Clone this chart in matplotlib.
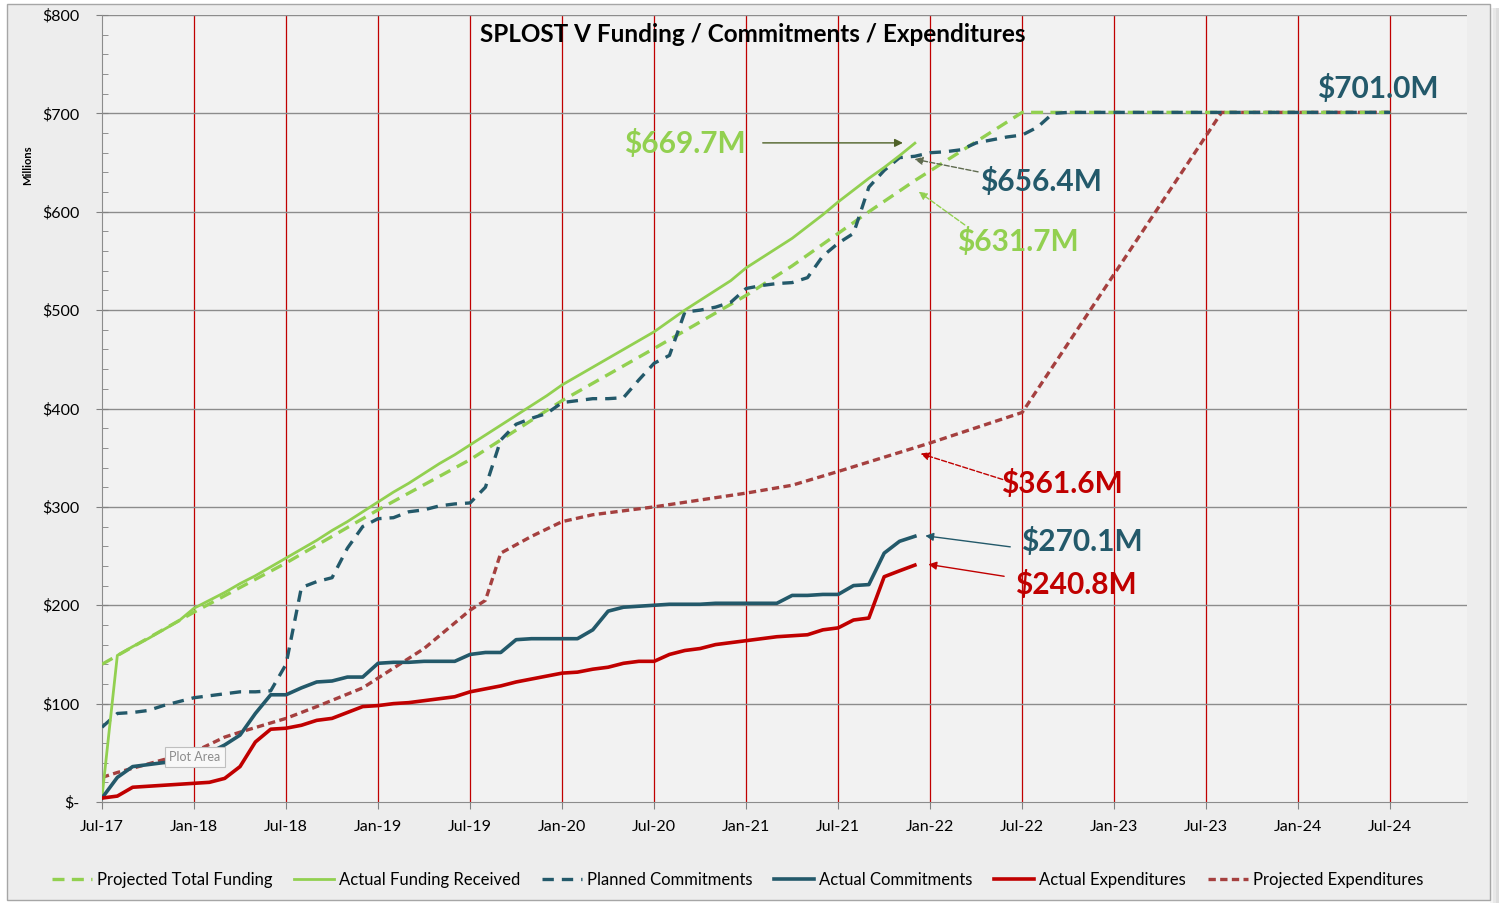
import matplotlib.pyplot as plt
from matplotlib.patches import Rectangle
from matplotlib.ticker import MultipleLocator, FuncFormatter

plt.rcParams['font.family'] = ['Lato', 'DejaVu Sans']

# month index 0 = Jul-17
tick_months = list(range(0, 85, 6))
tick_labels = ['Jul-17', 'Jan-18', 'Jul-18', 'Jan-19', 'Jul-19', 'Jan-20', 'Jul-20', 'Jan-21',
               'Jul-21', 'Jan-22', 'Jul-22', 'Jan-23', 'Jul-23', 'Jan-24', 'Jul-24']

actual_months = list(range(54))
actual_funding = [5, 149, 158, 166, 175, 184, 197, 205, 213, 222, 230, 239, 248, 257, 266, 276, 285, 295,
                  305, 315, 324, 334, 344, 353, 363, 373, 383, 393, 403, 413, 424, 433, 442, 451, 460, 469,
                  478, 489, 500, 510, 520, 530, 543, 553, 563, 573, 585, 597, 610, 622, 634, 645, 657, 669.7]
actual_commit = [4, 25, 36, 38, 40, 41, 43, 50, 58, 68, 90, 109, 109, 116, 122, 123, 127, 127,
                 141, 142, 142, 143, 143, 143, 150, 152, 152, 165, 166, 166, 166, 166, 175, 194, 198, 199,
                 200, 201, 201, 201, 202, 202, 202, 202, 202, 210, 210, 211, 211, 220, 221, 253, 265, 270.1]
actual_exp = [4, 6, 15, 16, 17, 18, 19, 20, 24, 36, 61, 74, 75, 78, 83, 85, 91, 97,
              98, 100, 101, 103, 105, 107, 112, 115, 118, 122, 125, 128, 131, 132, 135, 137, 141, 143,
              143, 150, 154, 156, 160, 162, 164, 166, 168, 169, 170, 175, 177, 185, 187, 229, 235, 240.8]

proj_fund_months = [0, 6, 12, 18, 24, 30, 36, 42, 45, 48, 50, 53, 60, 84]
proj_fund = [140, 193, 243, 297, 348, 408, 461, 515, 545, 578, 600, 631.7, 701, 701]

planned_months = list(range(64)) + [84]
planned_commit = [76, 90, 91, 93, 98, 102, 106, 108, 110, 112, 112, 113, 140, 218, 224, 228, 258, 280,
                  288, 289, 295, 297, 301, 303, 304, 320, 368, 384, 390, 395, 406, 408, 410, 410, 411, 429,
                  446, 454, 498, 500, 503, 508, 522, 525, 527, 528, 533, 555, 568, 578, 625, 642, 655, 656.4,
                  660, 661, 663, 670, 673, 676, 678, 686, 700, 701, 701]

proj_exp_months = [0, 1, 4, 6, 8, 9, 12, 14, 17, 18, 21, 24, 25, 26, 28, 30, 32, 36, 42, 45, 48, 54, 60, 73, 84]
proj_exp = [25, 30, 43, 51, 66, 71, 85, 97, 116, 126, 156, 195, 205, 253, 270, 285, 292, 300, 314, 322,
            336, 365, 396, 701, 701]

GREEN = '#92D050'
TEAL = '#23596A'
RED = '#C00000'
BROWN = '#A5403F'

fig = plt.figure(figsize=(14.99, 9.07), dpi=100, facecolor='white')
# chart area frame + soft shadow on the right
for i, c in enumerate(['#F4F4F4', '#E8E8E8', '#DDDDDD']):
    fig.patches.append(Rectangle(((1490 + 3 * i) / 1499, 1 - 903 / 907), 3 / 1499, 895 / 907,
                                 transform=fig.transFigure, facecolor=c, edgecolor='none', zorder=-11))
fig.patches.append(Rectangle((7 / 1499, 1 - 900 / 907), 1483 / 1499, 896 / 907, transform=fig.transFigure,
                             facecolor='#EDEDED', edgecolor='#A6A6A6', lw=1, zorder=-10))

ax = fig.add_axes([102 / 1499, 1 - 802 / 907, (1467 - 102) / 1499, (802 - 15) / 907])
ax.set_facecolor('#F2F2F2')

ax.plot(proj_exp_months, proj_exp, color=BROWN, lw=2.4, dashes=(2.2, 1.3), label='Projected Expenditures', zorder=2)
ax.plot(proj_fund_months, proj_fund, color=GREEN, lw=2.4, dashes=(3.6, 2.2), label='Projected Total Funding', zorder=3)
ax.plot(actual_months, actual_funding, color=GREEN, lw=2.0, label='Actual Funding Received', zorder=4)
ax.plot(planned_months, planned_commit, color=TEAL, lw=2.4, dashes=(3.4, 2.4), label='Planned Commitments', zorder=3)
ax.plot(actual_months, actual_commit, color=TEAL, lw=2.6, label='Actual Commitments', zorder=4)
ax.plot(actual_months, actual_exp, color=RED, lw=2.6, label='Actual Expenditures', zorder=4)

ax.set_xlim(0, 89)
ax.set_ylim(0, 800)
ax.set_xticks(tick_months)
ax.set_xticklabels(tick_labels)
ax.yaxis.set_major_locator(MultipleLocator(100))
ax.yaxis.set_minor_locator(MultipleLocator(20))
ax.yaxis.set_major_formatter(FuncFormatter(lambda v, p: '$-' if v == 0 else f'${v:.0f}'))
ax.tick_params(axis='both', labelsize=11.5, colors='#808080', labelcolor='black')
ax.tick_params(axis='x', direction='out', length=5, pad=8)
ax.tick_params(axis='y', which='major', direction='inout', length=8, pad=12)
ax.tick_params(axis='y', which='minor', direction='in', length=4, color='#808080')

for m in tick_months[1:]:
    ax.axvline(m, color=RED, lw=0.9, zorder=1)
for v in range(100, 801, 100):
    ax.axhline(v, color='#8C8C8C', lw=1.0, zorder=1)
for s in ['top', 'right']:
    ax.spines[s].set_visible(False)
for s in ['left', 'bottom']:
    ax.spines[s].set_color('#8C8C8C')

fig.text(753 / 1499, 1 - 34 / 907, 'SPLOST V Funding / Commitments / Expenditures',
         fontsize=17.5, fontweight='bold', ha='center', va='center')
fig.text(28 / 1499, 1 - 165 / 907, 'Millions', rotation=90, fontsize=8, fontweight='bold', ha='center', va='center')

# callouts
lab = dict(fontsize=21.5, fontweight='bold', ha='center', va='center')
ax.text(38.0, 669.7, '$669.7M', color=GREEN, **lab)
ax.annotate('', xy=(52.4, 670), xytext=(42.9, 670),
            arrowprops=dict(arrowstyle='-|>', color='#4F6228', lw=1, mutation_scale=12))
ax.text(61.2, 631, '$656.4M', color=TEAL, **lab)
ax.annotate('', xy=(52.8, 654), xytext=(57.3, 640),
            arrowprops=dict(arrowstyle='-|>', color='#5F6B4F', lw=1, ls='--', mutation_scale=12))
ax.text(59.7, 570, '$631.7M', color=GREEN, **lab)
ax.annotate('', xy=(53.1, 622), xytext=(56.4, 585),
            arrowprops=dict(arrowstyle='-|>', color=GREEN, lw=1, ls='--', mutation_scale=12))
ax.text(62.6, 324, '$361.6M', color=RED, **lab)
ax.annotate('', xy=(53.2, 355), xytext=(58.9, 327),
            arrowprops=dict(arrowstyle='-|>', color=RED, lw=1, ls='--', mutation_scale=12))
ax.text(63.9, 265, '$270.1M', color=TEAL, **lab)
ax.annotate('', xy=(53.5, 271), xytext=(59.4, 259),
            arrowprops=dict(arrowstyle='-|>', color=TEAL, lw=1, mutation_scale=12))
ax.text(63.5, 221.5, '$240.8M', color=RED, **lab)
ax.annotate('', xy=(53.7, 242), xytext=(59.0, 229),
            arrowprops=dict(arrowstyle='-|>', color=RED, lw=1, mutation_scale=12))
ax.text(83.2, 725.6, '$701.0M', color=TEAL, **lab)

# hover tooltip captured in the screenshot
fig.text(195 / 1499, 1 - 757 / 907, 'Plot Area', fontsize=9, color='#8C8C8C', ha='center', va='center',
         bbox=dict(facecolor='#F8F8F8', edgecolor='#BFBFBF', boxstyle='square,pad=0.35', lw=0.8))

handles, labels = ax.get_legend_handles_labels()
order = ['Projected Total Funding', 'Actual Funding Received', 'Planned Commitments',
         'Actual Commitments', 'Actual Expenditures', 'Projected Expenditures']
hmap = dict(zip(labels, handles))
fig.legend([hmap[k] for k in order], order, loc='center', bbox_to_anchor=(0.492, 1 - 880 / 907), ncol=6,
           frameon=False, fontsize=12, handlelength=2.4, handletextpad=0.3, columnspacing=1.3)

fig.savefig('out.png', dpi=100, facecolor='white')
